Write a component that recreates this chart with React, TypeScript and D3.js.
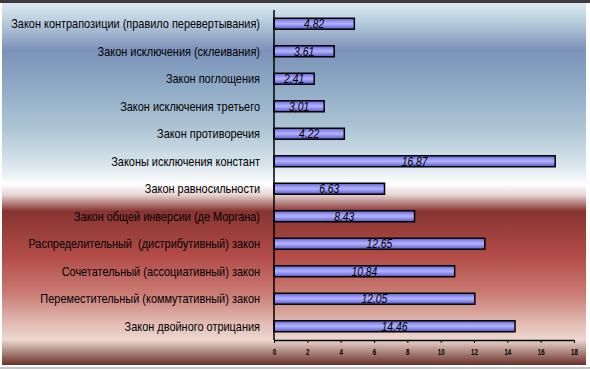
import React, { useEffect, useRef } from 'react';
import * as d3 from 'd3';

// categories top to bottom
const categories = [
  'Закон контрапозиции (правило перевертывания)',
  'Закон исключения (склеивания)',
  'Закон поглощения',
  'Закон исключения третьего',
  'Закон противоречия',
  'Законы исключения констант',
  'Закон равносильности',
  'Закон общей инверсии (де Моргана)',
  'Распределительный  (дистрибутивный) закон',
  'Сочетательный (ассоциативный) закон',
  'Переместительный (коммутативный) закон',
  'Закон двойного отрицания',
];
const values = [4.82, 3.61, 2.41, 3.01, 4.22, 16.87, 6.63, 8.43, 12.65, 10.84, 12.05, 14.46];
const xTicks = [0, 2, 4, 6, 8, 10, 12, 14, 16, 18];

const W = 590;
const H = 370;
const FONT = '"Liberation Sans", Arial, sans-serif';

function App() {
  const svgRef = useRef<SVGSVGElement>(null);

  useEffect(() => {
    const svg = d3.select(svgRef.current);
    svg.selectAll('*').remove();

    const defs = svg.append('defs');
    // background gradient (blue on top, white, then red)
    const bg = defs
      .append('linearGradient')
      .attr('id', 'bg')
      .attr('x1', 0)
      .attr('y1', 0)
      .attr('x2', 0)
      .attr('y2', 1);
    [
      [0, '#dde9f1'],
      [0.05, '#b9cfdd'],
      [0.13, '#7c91b9'],
      [0.2, '#88a3c2'],
      [0.35, '#aec6d5'],
      [0.45, '#dbe6ed'],
      [0.5, '#ffffff'],
      [0.53, '#e6d4d2'],
      [0.575, '#873431'],
      [0.7, '#b24c48'],
      [0.8, '#c97a72'],
      [0.88, '#e0b8b0'],
      [0.93, '#ecd8d0'],
      [1, '#6a3028'],
    ].forEach(([o, c]) => {
      bg.append('stop').attr('offset', o as number).attr('stop-color', c as string);
    });

    const bar = defs
      .append('linearGradient')
      .attr('id', 'bar')
      .attr('x1', 0)
      .attr('y1', 0)
      .attr('x2', 0)
      .attr('y2', 1);
    [
      [0, '#5c5cc0'],
      [0.3, '#9a9af6'],
      [0.5, '#b2b2ff'],
      [0.7, '#9090f0'],
      [1, '#5454b4'],
    ].forEach(([o, c]) => {
      bar.append('stop').attr('offset', o as number).attr('stop-color', c as string);
    });

    svg.append('rect').attr('x', 0).attr('y', 0).attr('width', W).attr('height', H).attr('fill', '#ffffff');
    svg.append('rect').attr('x', 2).attr('y', 3).attr('width', 584).attr('height', 362).attr('fill', 'url(#bg)');
    svg.append('rect').attr('x', 0).attr('y', 0).attr('width', W).attr('height', 3).attr('fill', '#3c3c3c');
    svg.append('rect').attr('x', 0).attr('y', 367).attr('width', W).attr('height', 2).attr('fill', '#c4c4c4');

    const x = d3.scaleLinear().domain([0, 18]).range([274, 574]);
    const y = d3
      .scaleBand()
      .domain(categories)
      .range([10, 340])
      .paddingInner(0.6)
      .paddingOuter(0.3);

    // bars
    svg
      .append('g')
      .selectAll('rect')
      .data(values)
      .enter()
      .append('rect')
      .attr('x', x(0))
      .attr('y', (d, i) => y(categories[i])!)
      .attr('width', (d) => x(d) - x(0))
      .attr('height', y.bandwidth())
      .attr('fill', 'url(#bar)')
      .attr('stroke', '#000')
      .attr('stroke-width', 1.5);

    // value labels (condensed by horizontal scaling)
    const vl = svg
      .append('g')
      .selectAll('g')
      .data(values)
      .enter()
      .append('g')
      .attr('transform', (d, i) => `translate(${(x(0) + x(d)) / 2},${y(categories[i])! + y.bandwidth() / 2}) scale(0.86,1)`);
    vl.append('text')
      .attr('dy', '0.36em')
      .attr('text-anchor', 'middle')
      .style('font-family', FONT)
      .style('font-style', 'italic')
      .style('font-size', '12px')
      .style('fill', '#000')
      .text((d) => d.toFixed(2).replace('.', ','));

    // category labels, narrow
    const cl = svg
      .append('g')
      .selectAll('g')
      .data(categories)
      .enter()
      .append('g');
    const ct = cl
      .append('text')
      .attr('dy', '0.36em')
      .attr('text-anchor', 'end')
      .style('white-space', 'pre')
      .style('font-family', FONT)
      .style('font-size', '12.5px')
      .style('fill', '#000')
      .text((d) => d);
    const first = ct.node() as SVGTextElement;
    const sx = first ? Math.min(1, 249 / first.getComputedTextLength()) : 0.82;
    cl.attr('transform', (d) => `translate(260,${y(d)! + y.bandwidth() / 2}) scale(${sx},1)`);

    // y axis line
    svg
      .append('line')
      .attr('x1', x(0))
      .attr('x2', x(0))
      .attr('y1', 10)
      .attr('y2', 340)
      .attr('stroke', '#000')
      .attr('stroke-width', 1.5);

    // x axis
    const gx = svg
      .append('g')
      .attr('transform', 'translate(0,340)')
      .call(d3.axisBottom(x).tickValues(xTicks).tickSize(3).tickSizeOuter(0).tickPadding(5));
    gx.select('.domain').attr('stroke', '#000').attr('stroke-width', 1.5);
    gx.selectAll('.tick line').attr('stroke', '#000');
    gx.selectAll('.tick text')
      .attr('transform', 'scale(0.65,1)')
      .style('font-family', FONT)
      .style('font-weight', 'bold')
      .style('font-size', '9.5px')
      .style('fill', '#000');
  }, []);

  return (
    <React.Fragment>
      <style>{'body{margin:0}'}</style>
      <div style={{ width: W, height: H }}>
        <svg ref={svgRef} width={W} height={H} style={{ display: 'block' }}></svg>
      </div>
    </React.Fragment>
  );
}

export default App;
